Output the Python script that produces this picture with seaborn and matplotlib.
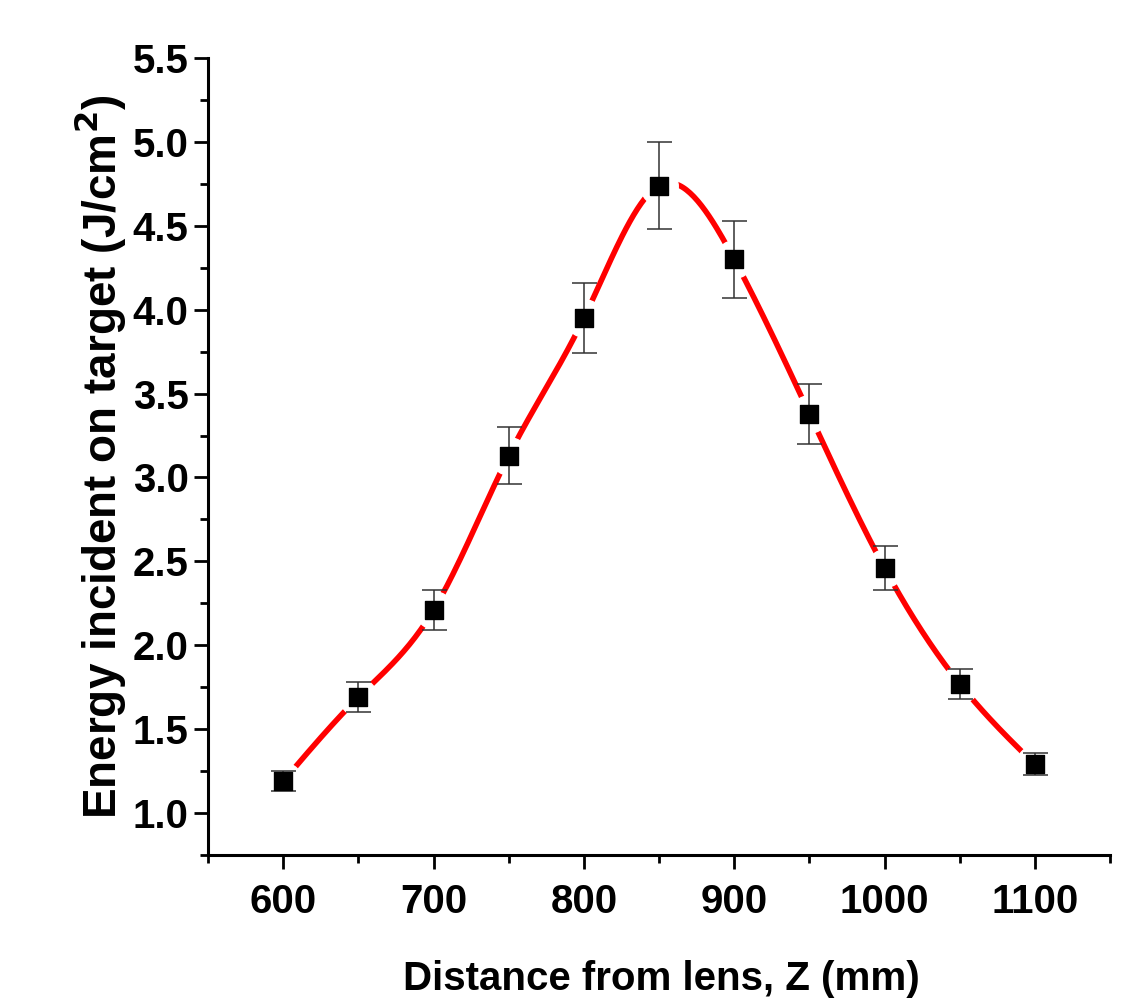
import numpy as np
import matplotlib
matplotlib.use("Agg")
import matplotlib.pyplot as plt
import seaborn as sns
from matplotlib.ticker import MultipleLocator

# data
distance = [600, 650, 700, 750, 800, 850, 900, 950, 1000, 1050, 1100]
energy = [1.19, 1.69, 2.21, 3.13, 3.95, 4.74, 4.30, 3.38, 2.46, 1.77, 1.29]
energy_err = [0.06, 0.09, 0.12, 0.17, 0.21, 0.26, 0.23, 0.18, 0.13, 0.09, 0.065]


def natural_spline(x, y, n=400):
    # natural cubic spline through the points (like Origin's spline connector)
    x = np.asarray(x, float)
    y = np.asarray(y, float)
    k = len(x)
    h = np.diff(x)
    A = np.zeros((k, k))
    r = np.zeros(k)
    A[0, 0] = A[-1, -1] = 1
    for i in range(1, k - 1):
        A[i, i - 1] = h[i - 1]
        A[i, i] = 2 * (h[i - 1] + h[i])
        A[i, i + 1] = h[i]
        r[i] = 3 * ((y[i + 1] - y[i]) / h[i] - (y[i] - y[i - 1]) / h[i - 1])
    c = np.linalg.solve(A, r)
    xs = np.linspace(x[0], x[-1], n)
    idx = np.clip(np.searchsorted(x, xs) - 1, 0, k - 2)
    dx = xs - x[idx]
    b = (y[idx + 1] - y[idx]) / h[idx] - h[idx] * (2 * c[idx] + c[idx + 1]) / 3
    d = (c[idx + 1] - c[idx]) / (3 * h[idx])
    ys = y[idx] + b * dx + c[idx] * dx ** 2 + d * dx ** 3
    return xs, ys


sns.set_style("ticks")
plt.rcParams["font.family"] = ["Liberation Sans", "DejaVu Sans"]
plt.rcParams["mathtext.default"] = "bf"

fig = plt.figure(figsize=(11.27, 10), dpi=100)
ax = fig.add_axes([0.1846, 0.145, 0.8004, 0.797])

xs, ys = natural_spline(distance, energy)
sns.lineplot(x=xs, y=ys, ax=ax, color="#ff0000", linewidth=4.0, zorder=1)

# white halo so the curve stops short of each symbol
ax.plot(distance, energy, linestyle="none", marker="o", markersize=27,
        markerfacecolor="white", markeredgecolor="white", zorder=2)

ax.errorbar(distance, energy, yerr=energy_err, fmt="none", ecolor="#333333",
            elinewidth=1.1, capsize=9, capthick=1.1, zorder=3)
sns.scatterplot(x=distance, y=energy, ax=ax, marker="s", s=150, color="black",
                edgecolor="black", zorder=4)

ax.set_xlim(550, 1150)
ax.set_ylim(0.75, 5.5)
ax.xaxis.set_minor_locator(MultipleLocator(50))
ax.yaxis.set_minor_locator(MultipleLocator(0.25))
ax.set_xticks(range(600, 1101, 100))
ax.set_yticks(np.arange(1.0, 5.51, 0.5))

ax.tick_params(axis="both", which="major", direction="out", length=10,
               width=2, labelsize=29, colors="black")
ax.tick_params(axis="both", which="minor", direction="out", length=6, width=2,
               colors="black")
ax.tick_params(axis="x", which="major", pad=10)
ax.tick_params(axis="y", which="major", pad=4)
for lab in ax.get_xticklabels() + ax.get_yticklabels():
    lab.set_fontweight("bold")

sns.despine(ax=ax)
for sp in ["left", "bottom"]:
    ax.spines[sp].set_linewidth(2.2)
    ax.spines[sp].set_color("black")

ax.set_xlabel("Distance from lens, Z (mm)", fontsize=29, fontweight="bold",
              color="black")
ax.xaxis.set_label_coords(0.503, -0.1317)
ax.set_ylabel("Energy incident on target (J/cm$^2$)", fontsize=33,
              fontweight="bold", color="black")
ax.yaxis.set_label_coords(-0.089, 0.5)
ax.grid(False)

fig.savefig("out.png", dpi=100)
